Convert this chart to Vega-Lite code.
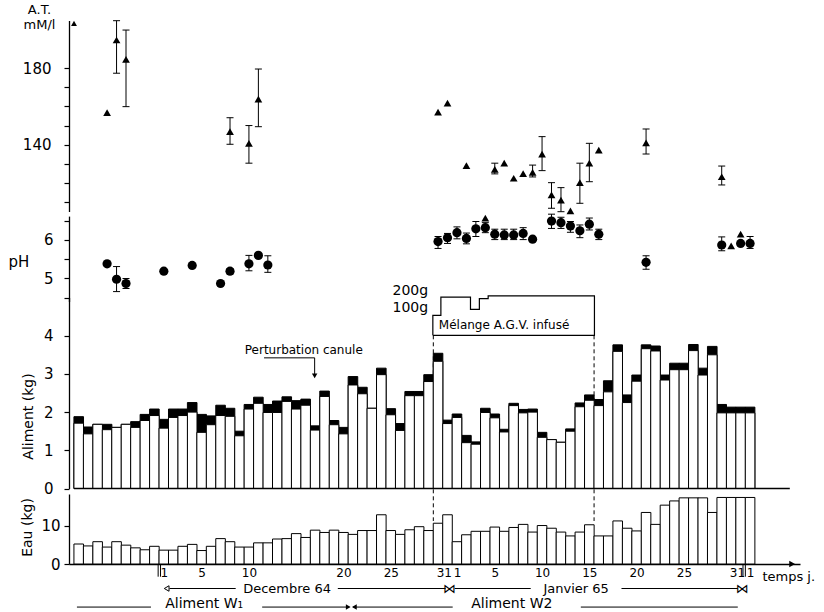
{
  "$schema": "https://vega.github.io/schema/vega-lite/v6.json",
  "width": 731,
  "height": 564,
  "autosize": {"type": "none"},
  "padding": {"left": 69, "top": 0, "right": 24, "bottom": 48},
  "background": "white",
  "config": {
    "view": {"stroke": null},
    "font": "DejaVu Sans",
    "axis": {"grid": false, "domainColor": "black", "tickColor": "black", "labelColor": "black", "titleColor": "black", "labelFont": "DejaVu Sans", "titleFont": "DejaVu Sans", "titleFontWeight": "normal", "domainWidth": 1.3, "tickWidth": 1.2},
    "text": {"font": "DejaVu Sans", "fill": "black"}
  },
  "datasets": {
    "jours": [
      {"n":1,"aliment":1.88,"blanc":1.71,"eau":5.2},
      {"n":2,"aliment":1.61,"blanc":1.43,"eau":4.7},
      {"n":3,"aliment":1.68,"blanc":1.68,"eau":5.8},
      {"n":4,"aliment":1.68,"blanc":1.54,"eau":4.4},
      {"n":5,"aliment":1.60,"blanc":1.60,"eau":5.8},
      {"n":6,"aliment":1.68,"blanc":1.68,"eau":4.9},
      {"n":7,"aliment":1.75,"blanc":1.60,"eau":4.2},
      {"n":8,"aliment":1.94,"blanc":1.78,"eau":3.7},
      {"n":9,"aliment":2.08,"blanc":1.91,"eau":4.6},
      {"n":10,"aliment":1.81,"blanc":1.58,"eau":3.6},
      {"n":11,"aliment":2.08,"blanc":1.86,"eau":3.6},
      {"n":12,"aliment":2.08,"blanc":1.91,"eau":4.6},
      {"n":13,"aliment":2.25,"blanc":2.00,"eau":5.1},
      {"n":14,"aliment":1.94,"blanc":1.47,"eau":3.5},
      {"n":15,"aliment":1.90,"blanc":1.67,"eau":4.6},
      {"n":16,"aliment":2.18,"blanc":1.91,"eau":6.6},
      {"n":17,"aliment":2.10,"blanc":1.89,"eau":5.8},
      {"n":18,"aliment":1.50,"blanc":1.38,"eau":4.4},
      {"n":19,"aliment":2.20,"blanc":2.08,"eau":4.4},
      {"n":20,"aliment":2.39,"blanc":2.23,"eau":5.5},
      {"n":21,"aliment":2.20,"blanc":1.99,"eau":5.5},
      {"n":22,"aliment":2.29,"blanc":1.99,"eau":6.5},
      {"n":23,"aliment":2.40,"blanc":2.28,"eau":6.6},
      {"n":24,"aliment":2.30,"blanc":2.08,"eau":7.9},
      {"n":25,"aliment":2.34,"blanc":2.18,"eau":6.9},
      {"n":26,"aliment":1.64,"blanc":1.53,"eau":8.8},
      {"n":27,"aliment":2.55,"blanc":2.41,"eau":8.2},
      {"n":28,"aliment":1.78,"blanc":1.67,"eau":8.8},
      {"n":29,"aliment":1.60,"blanc":1.43,"eau":8.2},
      {"n":30,"aliment":2.93,"blanc":2.71,"eau":7.7},
      {"n":31,"aliment":2.65,"blanc":2.48,"eau":8.7},
      {"n":32,"aliment":2.10,"blanc":2.10,"eau":8.7},
      {"n":33,"aliment":3.15,"blanc":2.98,"eau":12.8},
      {"n":34,"aliment":2.09,"blanc":1.93,"eau":8.7},
      {"n":35,"aliment":1.70,"blanc":1.52,"eau":7.7},
      {"n":36,"aliment":2.54,"blanc":2.43,"eau":8.9},
      {"n":37,"aliment":2.54,"blanc":2.43,"eau":9.7},
      {"n":38,"aliment":2.98,"blanc":2.80,"eau":8.7},
      {"n":39,"aliment":3.54,"blanc":3.33,"eau":10.6},
      {"n":40,"aliment":1.79,"blanc":1.70,"eau":12.8},
      {"n":41,"aliment":1.95,"blanc":1.86,"eau":5.8},
      {"n":42,"aliment":1.39,"blanc":1.20,"eau":7.6},
      {"n":43,"aliment":1.22,"blanc":1.16,"eau":8.5},
      {"n":44,"aliment":2.10,"blanc":1.99,"eau":8.5},
      {"n":45,"aliment":1.95,"blanc":1.85,"eau":9.6},
      {"n":46,"aliment":1.55,"blanc":1.48,"eau":8.5},
      {"n":47,"aliment":2.23,"blanc":2.17,"eau":9.5},
      {"n":48,"aliment":2.07,"blanc":1.98,"eau":10.3},
      {"n":49,"aliment":2.08,"blanc":2.00,"eau":8.3},
      {"n":50,"aliment":1.47,"blanc":1.34,"eau":10.0},
      {"n":51,"aliment":1.28,"blanc":1.28,"eau":9.3},
      {"n":52,"aliment":1.21,"blanc":1.21,"eau":8.3},
      {"n":53,"aliment":1.56,"blanc":1.50,"eau":7.3},
      {"n":54,"aliment":2.24,"blanc":2.14,"eau":8.3},
      {"n":55,"aliment":2.45,"blanc":2.31,"eau":10.2},
      {"n":56,"aliment":2.33,"blanc":2.17,"eau":7.3},
      {"n":57,"aliment":2.82,"blanc":2.53,"eau":7.3},
      {"n":58,"aliment":3.76,"blanc":3.59,"eau":11.2},
      {"n":59,"aliment":2.45,"blanc":2.25,"eau":9.3},
      {"n":60,"aliment":2.97,"blanc":2.81,"eau":8.6},
      {"n":61,"aliment":3.76,"blanc":3.66,"eau":13.4},
      {"n":62,"aliment":3.73,"blanc":3.60,"eau":10.3},
      {"n":63,"aliment":2.97,"blanc":2.84,"eau":15.3},
      {"n":64,"aliment":3.28,"blanc":3.11,"eau":16.4},
      {"n":65,"aliment":3.28,"blanc":3.11,"eau":17.2},
      {"n":66,"aliment":3.77,"blanc":3.61,"eau":17.2},
      {"n":67,"aliment":3.15,"blanc":2.97,"eau":17.2},
      {"n":68,"aliment":3.72,"blanc":3.50,"eau":13.4},
      {"n":69,"aliment":2.20,"blanc":1.98,"eau":17.3},
      {"n":70,"aliment":2.13,"blanc":1.98,"eau":17.3},
      {"n":71,"aliment":2.13,"blanc":1.98,"eau":17.3},
      {"n":72,"aliment":2.13,"blanc":1.98,"eau":17.3}
    ],
    "at": [
      {"n":4,"at":156.8,"lo":null,"hi":null},
      {"n":5,"at":194.8,"lo":177.4,"hi":204.9},
      {"n":6,"at":184.7,"lo":159.9,"hi":200.0},
      {"n":17,"at":146.8,"lo":140.2,"hi":154.1},
      {"n":19,"at":140.7,"lo":130.3,"hi":150.0},
      {"n":20,"at":163.8,"lo":149.4,"hi":179.6},
      {"n":39,"at":157.0,"lo":null,"hi":null},
      {"n":40,"at":161.7,"lo":null,"hi":null},
      {"n":42,"at":129.0,"lo":null,"hi":null},
      {"n":44,"at":101.5,"lo":null,"hi":null},
      {"n":45,"at":127.1,"lo":124.7,"hi":130.3},
      {"n":46,"at":130.3,"lo":null,"hi":null},
      {"n":47,"at":122.4,"lo":null,"hi":null},
      {"n":48,"at":124.8,"lo":null,"hi":null},
      {"n":49,"at":125.5,"lo":123.1,"hi":129.3},
      {"n":50,"at":135.0,"lo":126.4,"hi":144.2},
      {"n":51,"at":113.7,"lo":106.7,"hi":120.1},
      {"n":52,"at":111.0,"lo":104.9,"hi":117.5},
      {"n":53,"at":105.3,"lo":null,"hi":null},
      {"n":54,"at":120.1,"lo":109.3,"hi":130.3},
      {"n":55,"at":130.3,"lo":120.6,"hi":140.7},
      {"n":56,"at":137.1,"lo":null,"hi":null},
      {"n":61,"at":140.9,"lo":135.1,"hi":148.2},
      {"n":69,"at":123.2,"lo":118.9,"hi":128.8},
      {"n":70,"at":87.0,"lo":null,"hi":null},
      {"n":71,"at":93.2,"lo":null,"hi":null}
    ],
    "ph": [
      {"n":4,"ph":5.38,"lo":null,"hi":null},
      {"n":5,"ph":4.98,"lo":4.66,"hi":5.31},
      {"n":6,"ph":4.87,"lo":4.74,"hi":5.0},
      {"n":10,"ph":5.19,"lo":null,"hi":null},
      {"n":13,"ph":5.34,"lo":null,"hi":null},
      {"n":16,"ph":4.87,"lo":null,"hi":null},
      {"n":17,"ph":5.19,"lo":5.12,"hi":5.26},
      {"n":19,"ph":5.38,"lo":5.20,"hi":5.60},
      {"n":20,"ph":5.60,"lo":null,"hi":null},
      {"n":21,"ph":5.35,"lo":5.16,"hi":5.59},
      {"n":39,"ph":5.96,"lo":5.78,"hi":6.09},
      {"n":40,"ph":6.06,"lo":5.91,"hi":6.17},
      {"n":41,"ph":6.19,"lo":6.03,"hi":6.34},
      {"n":42,"ph":6.04,"lo":5.90,"hi":6.18},
      {"n":43,"ph":6.29,"lo":6.09,"hi":6.48},
      {"n":44,"ph":6.32,"lo":6.19,"hi":6.45},
      {"n":45,"ph":6.15,"lo":6.01,"hi":6.28},
      {"n":46,"ph":6.13,"lo":6.01,"hi":6.28},
      {"n":47,"ph":6.13,"lo":6.01,"hi":6.28},
      {"n":48,"ph":6.17,"lo":6.01,"hi":6.32},
      {"n":49,"ph":6.02,"lo":null,"hi":null},
      {"n":51,"ph":6.49,"lo":6.30,"hi":6.67},
      {"n":52,"ph":6.45,"lo":6.30,"hi":6.59},
      {"n":53,"ph":6.36,"lo":6.20,"hi":6.48},
      {"n":54,"ph":6.24,"lo":6.06,"hi":6.39},
      {"n":55,"ph":6.41,"lo":6.26,"hi":6.57},
      {"n":56,"ph":6.15,"lo":6.01,"hi":6.28},
      {"n":61,"ph":5.42,"lo":5.24,"hi":5.59},
      {"n":69,"ph":5.87,"lo":5.72,"hi":6.08},
      {"n":71,"ph":5.91,"lo":null,"hi":null},
      {"n":72,"ph":5.91,"lo":5.78,"hi":6.09}
    ],
    "infusion": [
      {"o":1,"j":38.45,"g":4.01},
      {"o":2,"j":38.45,"g":4.53},
      {"o":3,"j":39.3,"g":4.53},
      {"o":4,"j":39.3,"g":5.01},
      {"o":5,"j":42.43,"g":5.01},
      {"o":6,"j":42.43,"g":4.69},
      {"o":7,"j":43.37,"g":4.69},
      {"o":8,"j":43.37,"g":4.97},
      {"o":9,"j":44.3,"g":4.97},
      {"o":10,"j":44.3,"g":5.04},
      {"o":11,"j":55.54,"g":5.04},
      {"o":12,"j":55.54,"g":4.01},
      {"o":13,"j":38.45,"g":4.01}
    ]
  },
  "layer": [
    {
      "data": {"name": "at"},
      "layer": [
        {
          "mark": {"type": "rule", "color": "black", "strokeWidth": 1},
          "encoding": {
            "x": {"field": "n", "type": "quantitative", "scale": {"domain": [0.5, 76.75], "nice": false, "zero": false},
              "axis": {"title": null, "orient": "bottom", "values": [10,14,19,29,34,40,41,45,50,55,60,65,71,72],
                "labelExpr": "datum.value <= 9 ? datum.value + 21 : datum.value <= 40 ? datum.value - 9 : datum.value <= 71 ? datum.value - 40 : datum.value - 71",
                "labelAlign": {"condition": {"test": "datum.value == 40 || datum.value == 71", "value": "right"}, "value": "center"},
                "labelOffset": {"condition": {"test": "datum.value == 40 || datum.value == 71", "value": 4}, "value": 0},
                "ticks": false, "domain": true, "labelFontSize": 12, "labelPadding": 3, "labelFlush": false, "labelOverlap": false}},
            "y": {"field": "lo", "type": "quantitative", "scale": {"domain": [105, 205], "range": [211.5, 20.5], "nice": false, "zero": false},
              "axis": {"orient": "left", "title": ["A.T.", "mM/l"], "values": [110,120,130,140,150,160,170,180],
                "labelExpr": "datum.value == 140 || datum.value == 180 ? datum.label : ''",
                "tickSize": 5, "labelPadding": 13, "labelFontSize": 15, "titleAngle": 0, "titleX": -30, "titleY": 3,
                "titleAlign": "center", "titleBaseline": "top", "titleFontSize": 13, "titleLineHeight": 15}},
            "y2": {"field": "hi"}
          }
        },
        {
          "mark": {"type": "tick", "orient": "horizontal", "size": 7, "thickness": 1, "color": "black", "opacity": 1},
          "encoding": {"x": {"field": "n", "type": "quantitative"}, "y": {"field": "lo", "type": "quantitative"}}
        },
        {
          "mark": {"type": "tick", "orient": "horizontal", "size": 7, "thickness": 1, "color": "black", "opacity": 1},
          "encoding": {"x": {"field": "n", "type": "quantitative"}, "y": {"field": "hi", "type": "quantitative"}}
        },
        {
          "mark": {"type": "point", "shape": "triangle-up", "filled": true, "size": 60, "color": "black", "opacity": 1},
          "encoding": {"x": {"field": "n", "type": "quantitative"}, "y": {"field": "at", "type": "quantitative"}}
        },
        {
          "data": {"values": [{}]},
          "mark": {"type": "point", "shape": "triangle-up", "filled": true, "size": 35, "color": "black", "opacity": 1},
          "encoding": {"x": {"datum": 0.5}, "y": {"datum": 203.5}}
        }
      ]
    },
    {
      "data": {"name": "ph"},
      "layer": [
        {
          "mark": {"type": "rule", "color": "black", "strokeWidth": 1},
          "encoding": {
            "x": {"field": "n", "type": "quantitative"},
            "y": {"field": "lo", "type": "quantitative", "scale": {"domain": [4.4, 6.62], "range": [301.6, 216.1], "nice": false, "zero": false},
              "axis": {"orient": "left", "title": "pH", "values": [4.5,5,5.5,6,6.5],
                "labelExpr": "datum.value == 5 ? '5' : datum.value == 6 ? '6' : ''",
                "tickSize": 5, "labelPadding": 11, "labelFontSize": 15, "titleAngle": 0, "titleX": -61, "titleY": 261,
                "titleAlign": "left", "titleBaseline": "middle", "titleFontSize": 15}},
            "y2": {"field": "hi"}
          }
        },
        {
          "mark": {"type": "tick", "orient": "horizontal", "size": 7, "thickness": 1, "color": "black", "opacity": 1},
          "encoding": {"x": {"field": "n", "type": "quantitative"}, "y": {"field": "lo", "type": "quantitative"}}
        },
        {
          "mark": {"type": "tick", "orient": "horizontal", "size": 7, "thickness": 1, "color": "black", "opacity": 1},
          "encoding": {"x": {"field": "n", "type": "quantitative"}, "y": {"field": "hi", "type": "quantitative"}}
        },
        {
          "mark": {"type": "circle", "size": 85, "color": "black", "opacity": 1},
          "encoding": {"x": {"field": "n", "type": "quantitative"}, "y": {"field": "ph", "type": "quantitative"}}
        }
      ]
    },
    {
      "layer": [
        {
          "data": {"values": [{}]},
          "mark": {"type": "rule", "strokeDash": [4, 3], "strokeWidth": 1, "color": "black"},
          "encoding": {"x": {"datum": 38.5}, "y": {"datum": 4.01}, "y2": {"datum": -0.85}}
        },
        {
          "data": {"values": [{}]},
          "mark": {"type": "rule", "strokeDash": [4, 3], "strokeWidth": 1, "color": "black"},
          "encoding": {"x": {"datum": 55.5}, "y": {"datum": 4.01}, "y2": {"datum": -0.85}}
        },
        {
          "data": {"name": "jours"},
          "mark": {"type": "bar", "width": 9.59, "fill": "black", "stroke": "black", "strokeWidth": 1},
          "encoding": {
            "x": {"field": "n", "type": "quantitative"},
            "y": {"field": "aliment", "type": "quantitative", "scale": {"domain": [0, 5], "range": [488.5, 297.5], "nice": false, "zero": false},
              "axis": {"orient": "left", "title": "Aliment (kg)", "values": [0,1,2,3,4], "format": "d",
                "tickSize": 5, "labelPadding": 11, "labelFontSize": 15, "titleAngle": 270, "titleX": -41, "titleY": 416,
                "titleAlign": "center", "titleBaseline": "middle", "titleFontSize": 14}}
          }
        },
        {
          "data": {"name": "jours"},
          "mark": {"type": "bar", "width": 9.59, "fill": "white", "stroke": "black", "strokeWidth": 1},
          "encoding": {"x": {"field": "n", "type": "quantitative"}, "y": {"field": "blanc", "type": "quantitative"}}
        },
        {
          "data": {"values": [{}]},
          "mark": {"type": "rule", "color": "black", "strokeWidth": 1.3},
          "encoding": {"x": {"datum": 0.5}, "x2": {"datum": 76.2}, "y": {"datum": 0}}
        },
        {
          "data": {"name": "infusion"},
          "mark": {"type": "line", "color": "black", "strokeWidth": 1.2},
          "encoding": {"x": {"field": "j", "type": "quantitative"}, "y": {"field": "g", "type": "quantitative"}, "order": {"field": "o"}}
        },
        {
          "data": {"values": [{}]},
          "mark": {"type": "text", "text": "200g", "align": "right", "baseline": "middle", "fontSize": 14},
          "encoding": {"x": {"datum": 37.95}, "y": {"datum": 5.18}}
        },
        {
          "data": {"values": [{}]},
          "mark": {"type": "text", "text": "100g", "align": "right", "baseline": "middle", "fontSize": 14},
          "encoding": {"x": {"datum": 37.95}, "y": {"datum": 4.73}}
        },
        {
          "data": {"values": [{}]},
          "mark": {"type": "text", "text": "Mélange A.G.V. infusé", "align": "center", "baseline": "middle", "fontSize": 12},
          "encoding": {"x": {"datum": 45.98}, "y": {"datum": 4.28}}
        },
        {
          "data": {"values": [{}]},
          "mark": {"type": "text", "text": "Perturbation canule", "align": "center", "baseline": "middle", "fontSize": 12},
          "encoding": {"x": {"datum": 24.8}, "y": {"datum": 3.63}}
        },
        {
          "data": {"values": [{}]},
          "mark": {"type": "rule", "color": "black", "strokeWidth": 1},
          "encoding": {"x": {"datum": 20.6}, "x2": {"datum": 25.95}, "y": {"datum": 3.42}}
        },
        {
          "data": {"values": [{}]},
          "mark": {"type": "rule", "color": "black", "strokeWidth": 1},
          "encoding": {"x": {"datum": 25.95}, "y": {"datum": 3.42}, "y2": {"datum": 2.97}}
        },
        {
          "data": {"values": [{}]},
          "mark": {"type": "point", "shape": "triangle-down", "filled": true, "size": 30, "color": "black", "opacity": 1},
          "encoding": {"x": {"datum": 25.95}, "y": {"datum": 2.95}}
        }
      ]
    },
    {
      "layer": [
        {
          "data": {"name": "jours"},
          "mark": {"type": "bar", "width": 9.59, "fill": "white", "stroke": "black", "strokeWidth": 1},
          "encoding": {
            "x": {"field": "n", "type": "quantitative"},
            "y": {"field": "eau", "type": "quantitative", "scale": {"domain": [0, 18.2], "range": [564, 494], "nice": false, "zero": false},
              "axis": {"orient": "left", "title": "Eau (kg)", "values": [0, 10], "format": "d",
                "tickSize": 5, "labelPadding": 4, "labelFontSize": 15, "titleAngle": 270, "titleX": -42, "titleY": 527,
                "titleAlign": "center", "titleBaseline": "middle", "titleFontSize": 14}}
          }
        },
        {"data": {"values": [{}]}, "mark": {"type": "rule", "color": "black", "strokeWidth": 1}, "encoding": {"x": {"datum": 9.4}, "y": {"datum": 0}, "y2": {"datum": -3.3}}},
        {"data": {"values": [{}]}, "mark": {"type": "rule", "color": "black", "strokeWidth": 1}, "encoding": {"x": {"datum": 9.65}, "y": {"datum": 0}, "y2": {"datum": -3.3}}},
        {"data": {"values": [{}]}, "mark": {"type": "rule", "color": "black", "strokeWidth": 1}, "encoding": {"x": {"datum": 71.25}, "y": {"datum": 0}, "y2": {"datum": -3.3}}},
        {"data": {"values": [{}]}, "mark": {"type": "rule", "color": "black", "strokeWidth": 1}, "encoding": {"x": {"datum": 71.5}, "y": {"datum": 0}, "y2": {"datum": -3.3}}},
        {"data": {"values": [{}]}, "mark": {"type": "point", "shape": "triangle-right", "filled": true, "size": 45, "color": "black", "opacity": 1}, "encoding": {"x": {"datum": 76.45}, "y": {"datum": 0}}},
        {"data": {"values": [{}]}, "mark": {"type": "text", "text": "temps j.", "align": "left", "baseline": "middle", "fontSize": 13}, "encoding": {"x": {"datum": 73.3}, "y": {"datum": -3.5}}},
        {"data": {"values": [{}]}, "mark": {"type": "text", "text": "Decembre 64", "align": "center", "baseline": "middle", "fontSize": 13}, "encoding": {"x": {"datum": 23.03}, "y": {"datum": -6.37}}},
        {"data": {"values": [{}]}, "mark": {"type": "text", "text": "Janvier 65", "align": "center", "baseline": "middle", "fontSize": 13}, "encoding": {"x": {"datum": 53.6}, "y": {"datum": -6.37}}},
        {"data": {"values": [{}]}, "mark": {"type": "rule", "color": "black", "strokeWidth": 1}, "encoding": {"x": {"datum": 10.6}, "x2": {"datum": 17.6}, "y": {"datum": -6.37}}},
        {"data": {"values": [{}]}, "mark": {"type": "rule", "color": "black", "strokeWidth": 1}, "encoding": {"x": {"datum": 28.4}, "x2": {"datum": 39.8}, "y": {"datum": -6.37}}},
        {"data": {"values": [{}]}, "mark": {"type": "rule", "color": "black", "strokeWidth": 1}, "encoding": {"x": {"datum": 40.76}, "x2": {"datum": 48.8}, "y": {"datum": -6.37}}},
        {"data": {"values": [{}]}, "mark": {"type": "rule", "color": "black", "strokeWidth": 1}, "encoding": {"x": {"datum": 58.4}, "x2": {"datum": 70.7}, "y": {"datum": -6.37}}},
        {"data": {"values": [{}]}, "mark": {"type": "point", "shape": "triangle-left", "filled": false, "size": 30, "color": "black", "opacity": 1, "strokeWidth": 1}, "encoding": {"x": {"datum": 10.3}, "y": {"datum": -6.37}}},
        {"data": {"values": [{}]}, "mark": {"type": "text", "text": "⋈", "align": "center", "baseline": "middle", "fontSize": 13}, "encoding": {"x": {"datum": 40.24}, "y": {"datum": -6.37}}},
        {"data": {"values": [{}]}, "mark": {"type": "text", "text": "⋈", "align": "center", "baseline": "middle", "fontSize": 13}, "encoding": {"x": {"datum": 71.2}, "y": {"datum": -6.37}}},
        {"data": {"values": [{}]}, "mark": {"type": "text", "text": "Aliment W₁", "align": "center", "baseline": "middle", "fontSize": 14}, "encoding": {"x": {"datum": 14.27}, "y": {"datum": -10.27}}},
        {"data": {"values": [{}]}, "mark": {"type": "text", "text": "Aliment W2", "align": "center", "baseline": "middle", "fontSize": 14}, "encoding": {"x": {"datum": 46.8}, "y": {"datum": -10.27}}},
        {"data": {"values": [{}]}, "mark": {"type": "rule", "color": "black", "strokeWidth": 1}, "encoding": {"x": {"datum": 0.81}, "x2": {"datum": 8.64}, "y": {"datum": -11.2}}},
        {"data": {"values": [{}]}, "mark": {"type": "rule", "color": "black", "strokeWidth": 1}, "encoding": {"x": {"datum": 20.4}, "x2": {"datum": 29.6}, "y": {"datum": -11.2}}},
        {"data": {"values": [{}]}, "mark": {"type": "rule", "color": "black", "strokeWidth": 1}, "encoding": {"x": {"datum": 30.0}, "x2": {"datum": 40.55}, "y": {"datum": -11.2}}},
        {"data": {"values": [{}]}, "mark": {"type": "rule", "color": "black", "strokeWidth": 1}, "encoding": {"x": {"datum": 54.1}, "x2": {"datum": 70.7}, "y": {"datum": -11.2}}},
        {"data": {"values": [{}]}, "mark": {"type": "point", "shape": "triangle-right", "filled": true, "size": 30, "color": "black", "opacity": 1}, "encoding": {"x": {"datum": 29.5}, "y": {"datum": -11.2}}},
        {"data": {"values": [{}]}, "mark": {"type": "point", "shape": "triangle-left", "filled": true, "size": 30, "color": "black", "opacity": 1}, "encoding": {"x": {"datum": 30.15}, "y": {"datum": -11.2}}}
      ]
    }
  ],
  "resolve": {"scale": {"y": "independent"}, "axis": {"y": "independent"}}
}
